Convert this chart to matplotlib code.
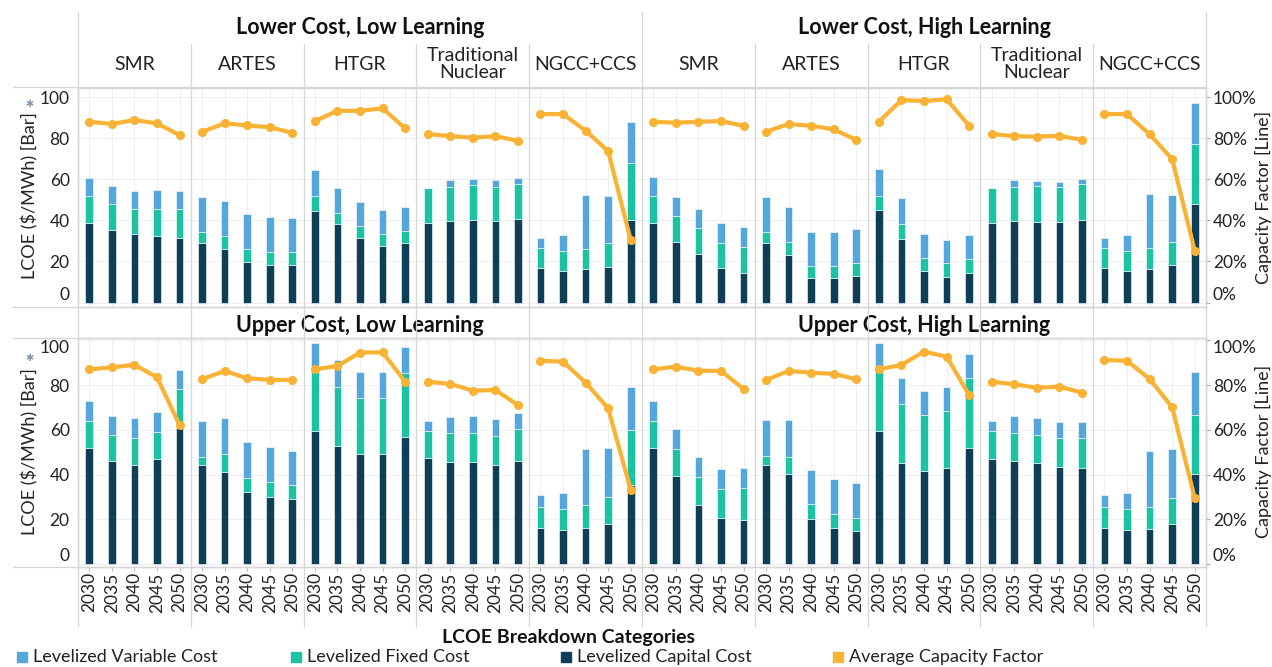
import matplotlib
matplotlib.use('Agg')
import matplotlib.pyplot as plt
import numpy as np
from matplotlib.lines import Line2D
from matplotlib.ticker import PercentFormatter

plt.rcParams['font.family'] = ['Lato', 'DejaVu Sans']

# ---------------- data ----------------
years = ['2030', '2035', '2040', '2045', '2050']
techs = ['SMR', 'ARTES', 'HTGR', 'Traditional\nNuclear', 'NGCC+CCS']
top_scenarios = ['Lower Cost, Low Learning', 'Lower Cost, High Learning']
bottom_scenarios = ['Upper Cost, Low Learning', 'Upper Cost, High Learning']
legend_labels = ['Levelized Variable Cost', 'Levelized Fixed Cost',
                 'Levelized Capital Cost', 'Average Capacity Factor']

# order inside each list: SMR, ARTES, HTGR, Traditional Nuclear, NGCC+CCS (x 2030..2050)
lcll_capital = [38.8, 35.4, 33.5, 32.5, 31.2, 28.8, 25.9, 19.6, 18.2, 18.2,
                44.7, 38.2, 31.5, 27.5, 28.8, 38.8, 39.7, 40.1, 39.7, 40.5,
                16.6, 15.5, 16.2, 17.4, 40.1]
lcll_fixed = [13.2, 12.5, 11.9, 12.9, 14.2, 5.4, 6.6, 6.3, 6.4, 6.4,
              7.3, 5.2, 5.7, 5.7, 6.0, 17.1, 16.7, 17.1, 16.7, 17.2,
              9.8, 9.7, 9.7, 11.7, 27.9]
lcll_variable = [8.7, 8.9, 8.9, 9.3, 8.9, 17.3, 17.0, 17.0, 16.9, 16.4,
                 12.5, 12.2, 11.9, 11.8, 11.8, 0.0, 3.2, 2.9, 3.2, 3.0,
                 5.1, 7.6, 26.4, 22.9, 20.0]
lcll_cf = [88.0, 86.9, 88.8, 87.2, 81.5, 83.1, 87.2, 86.2, 85.3, 82.6,
           88.3, 93.3, 93.3, 94.5, 84.8, 82.0, 81.0, 80.2, 81.0, 78.7,
           91.7, 91.7, 83.6, 73.7, 30.4]

lchl_capital = [38.8, 29.6, 23.5, 16.6, 14.2, 28.8, 23.1, 12.1, 12.1, 12.9,
                45.0, 30.8, 15.3, 12.6, 14.5, 38.8, 39.8, 39.3, 39.3, 40.1,
                16.6, 15.5, 16.3, 18.2, 47.8]
lchl_fixed = [13.0, 12.5, 12.6, 12.5, 13.0, 5.4, 6.5, 5.8, 5.8, 6.5,
              6.8, 7.4, 6.2, 6.5, 6.7, 17.1, 16.6, 17.4, 17.1, 17.4,
              9.8, 9.7, 10.1, 11.4, 29.3]
lchl_variable = [9.4, 9.1, 9.3, 9.4, 9.4, 17.3, 17.0, 16.6, 16.6, 16.2,
                 13.0, 12.5, 11.7, 11.3, 11.6, 0.0, 3.2, 2.4, 2.4, 2.6,
                 5.1, 7.6, 26.3, 22.7, 20.1]
lchl_cf = [88.0, 87.5, 88.0, 88.3, 86.0, 83.1, 86.9, 86.0, 84.3, 79.1,
           88.0, 98.5, 98.1, 98.9, 86.0, 82.0, 81.0, 80.7, 81.2, 79.1,
           91.7, 91.7, 81.9, 69.8, 25.2]

ucll_capital = [51.8, 46.1, 44.3, 47.0, 60.7, 44.3, 41.3, 32.4, 30.2, 29.0,
                59.6, 53.0, 49.2, 49.1, 57.0, 47.3, 45.8, 45.8, 44.3, 46.1,
                16.3, 15.3, 16.1, 17.9, 35.4]
ucll_fixed = [12.3, 11.6, 11.9, 12.2, 17.6, 3.7, 7.8, 6.3, 6.4, 6.4,
              26.4, 26.3, 25.2, 25.3, 28.5, 12.3, 12.7, 13.0, 13.0, 14.3,
              9.4, 9.4, 10.4, 12.3, 24.6]
ucll_variable = [8.8, 8.6, 9.0, 8.9, 8.4, 16.1, 16.1, 16.0, 15.6, 15.3,
                 12.7, 11.9, 11.3, 11.3, 11.4, 4.5, 7.1, 7.4, 7.4, 7.3,
                 5.2, 7.3, 25.0, 21.9, 19.0]
ucll_cf = [87.0, 87.9, 89.0, 83.5, 62.2, 82.6, 86.3, 83.0, 82.3, 82.3,
           87.0, 88.5, 94.5, 94.6, 81.5, 81.5, 80.5, 77.5, 77.8, 71.1,
           90.9, 90.4, 81.1, 69.6, 33.2]

uchl_capital = [51.8, 39.4, 26.5, 20.8, 19.8, 44.3, 40.3, 20.1, 16.1, 14.9,
                59.6, 45.1, 41.8, 42.9, 52.1, 47.0, 46.1, 45.1, 43.6, 42.9,
                16.3, 15.3, 15.8, 17.9, 40.3]
uchl_fixed = [12.3, 12.1, 12.6, 12.8, 14.4, 4.0, 7.7, 6.7, 6.2, 5.6,
              28.3, 26.5, 24.9, 25.5, 30.9, 12.5, 12.7, 12.6, 12.6, 13.3,
              9.1, 9.4, 9.9, 11.8, 26.4]
uchl_variable = [8.8, 8.9, 8.9, 8.9, 8.9, 16.1, 16.4, 15.3, 15.6, 15.7,
                 10.8, 11.7, 10.8, 10.9, 10.9, 4.6, 7.4, 7.7, 7.5, 7.2,
                 5.5, 7.3, 25.0, 21.6, 19.3]
uchl_cf = [87.0, 88.2, 86.4, 86.3, 78.3, 82.3, 86.3, 85.5, 85.0, 82.6,
           87.0, 89.0, 94.9, 92.7, 75.6, 81.5, 80.4, 78.8, 79.3, 76.6,
           91.2, 90.8, 82.7, 70.1, 29.5]

# ---------------- style ----------------
C_VAR = '#55A7DB'
C_FIX = '#1CC3A2'
C_CAP = '#0E3F57'
C_CF = '#F9B233'
GRID = '#EFEFEF'
LINE = '#D6D6D6'
TXT = '#222222'

W, H = 1272, 667
fig = plt.figure(figsize=(W / 100, H / 100), dpi=100)


def fx(x):
    return x / W


def fy(y):
    return 1 - y / H


X0, X1 = 78, 1206
COLW = (X1 - X0) / 10.0


def hline(y, x0, x1, color=LINE, lw=0.9):
    fig.add_artist(Line2D([fx(x0), fx(x1)], [fy(y), fy(y)], transform=fig.transFigure,
                          color=color, lw=lw, zorder=10))


def vline(x, y0, y1, color=LINE, lw=0.9):
    fig.add_artist(Line2D([fx(x), fx(x)], [fy(y0), fy(y1)], transform=fig.transFigure,
                          color=color, lw=lw, zorder=10))


def draw_row(ytop, ybot, ylim, capital, fixed, variable, cf, show_years,
             clamp_top):
    ax = fig.add_axes([fx(X0), fy(ybot), (X1 - X0) / W, (ybot - ytop) / H])
    x = np.arange(len(capital))
    cap = np.array(capital)
    fxd = np.array(fixed)
    var = np.array(variable)
    bw = 0.34
    ax.bar(x, cap, width=bw, color=C_CAP, edgecolor='white', linewidth=0.4, zorder=3)
    ax.bar(x, fxd, width=bw, bottom=cap, color=C_FIX, edgecolor='white', linewidth=0.4, zorder=3)
    ax.bar(x, var, width=bw, bottom=cap + fxd, color=C_VAR, edgecolor='white', linewidth=0.4, zorder=3)
    ax.set_xlim(-0.5, len(capital) - 0.5)
    ax.set_ylim(*ylim)
    ax.set_yticks([0, 20, 40, 60, 80, 100])
    ax.set_yticklabels(['0', '20', '40', '60', '80', '100'])
    ax.tick_params(axis='y', length=0, pad=6, labelsize=12.5, labelcolor=TXT)
    ax.set_xticks(x)
    if show_years:
        ax.set_xticklabels(years * (len(capital) // 5), rotation=90)
        ax.tick_params(axis='x', length=3, width=0.8, color='#BBBBBB', pad=1,
                       labelsize=12.5, labelcolor=TXT)
    else:
        ax.set_xticklabels([])
        ax.tick_params(axis='x', length=0)
    ax.grid(True, axis='both', color=GRID, lw=0.8, zorder=0)
    ax.set_axisbelow(True)
    for s in ax.spines.values():
        s.set_color(LINE)
        s.set_linewidth(0.9)

    axr = ax.twinx()
    cfa = np.array(cf)
    for g in range(len(capital) // 5):
        sl = slice(g * 5, g * 5 + 5)
        axr.plot(x[sl], cfa[sl], color=C_CF, lw=3, marker='o', ms=5.5,
                 solid_capstyle='round', solid_joinstyle='round', zorder=5)
    axr.set_ylim(*ylim)
    axr.set_yticks([0, 20, 40, 60, 80, 100])
    axr.yaxis.set_major_formatter(PercentFormatter(decimals=0))
    axr.tick_params(axis='y', length=3, width=0.8, color='#AAAAAA', pad=2,
                    labelsize=12.5, labelcolor=TXT)
    for s in axr.spines.values():
        s.set_color(LINE)
        s.set_linewidth(0.9)

    # edge tick labels clamped inside the pane
    ax.yaxis.get_major_ticks()[0].label1.set_va('bottom')
    axr.yaxis.get_major_ticks()[0].label2.set_va('bottom')
    if clamp_top:
        ax.yaxis.get_major_ticks()[-1].label1.set_va('top')
        axr.yaxis.get_major_ticks()[-1].label2.set_va('top')
    return ax, axr


draw_row(88, 306.7, (-2.0, 104.4),
         lcll_capital + lchl_capital, lcll_fixed + lchl_fixed,
         lcll_variable + lchl_variable, lcll_cf + lchl_cf, False, False)
draw_row(338, 566.7, (-1.07, 101.0),
         ucll_capital + uchl_capital, ucll_fixed + uchl_fixed,
         ucll_variable + uchl_variable, ucll_cf + uchl_cf, True, True)

# ---------------- headers ----------------
for i, name in enumerate(top_scenarios):
    cx = X0 + (i * 5 + 2.5) * COLW
    fig.text(fx(cx), fy(27), name, ha='center', va='center', fontsize=15.5,
             fontweight='bold', color='#111111')
for i, name in enumerate(bottom_scenarios):
    cx = X0 + (i * 5 + 2.5) * COLW
    fig.text(fx(cx), fy(326), name, ha='center', va='center', fontsize=15.5,
             fontweight='bold', color='#111111')
for g in range(10):
    t = techs[g % 5]
    cx = X0 + (g + 0.5) * COLW
    fig.text(fx(cx), fy(64), t, ha='center', va='center', fontsize=14,
             color=TXT, linespacing=1.0)

# axis titles
for yc, ys in [(196, 104), (452, 358)]:
    fig.text(fx(30), fy(yc), 'LCOE ($/MWh) [Bar]', rotation=90, ha='center',
             va='center', fontsize=13, color=TXT)
    fig.text(fx(29), fy(ys), '\u2731', ha='center', va='center', fontsize=7,
             color='#8196AD', family=['DejaVu Sans'])
for yc in [197, 451]:
    fig.text(fx(1263), fy(yc), 'Capacity Factor [Line]', rotation=90, ha='center',
             va='center', fontsize=13, color=TXT)

# ---------------- grid frame lines ----------------
for y in [87, 307, 338, 567]:
    hline(y, 13, X1)
vline(X0, 12, 626)
vline(X1, 12, 626)
vline(X0 + 5 * COLW, 12, 626)
for g in range(1, 10):
    if g == 5:
        continue
    vline(X0 + g * COLW, 44, 626)

# ---------------- legend ----------------
fig.text(fx(569), fy(637), 'LCOE Breakdown Categories', ha='center', va='center',
         fontsize=14, fontweight='bold', color='#111111')
leg_colors = [C_VAR, C_FIX, C_CAP, C_CF]
leg_x = [22, 296, 566, 838]
for lx, lc, lt in zip(leg_x, leg_colors, legend_labels):
    fig.add_artist(Line2D([fx(lx)], [fy(657)], transform=fig.transFigure, marker='s',
                          ms=6.5, color=lc, lw=0))
    fig.text(fx(lx + 11), fy(657), lt, ha='left', va='center', fontsize=13, color=TXT)

fig.savefig('out.png', dpi=100, facecolor='white')
